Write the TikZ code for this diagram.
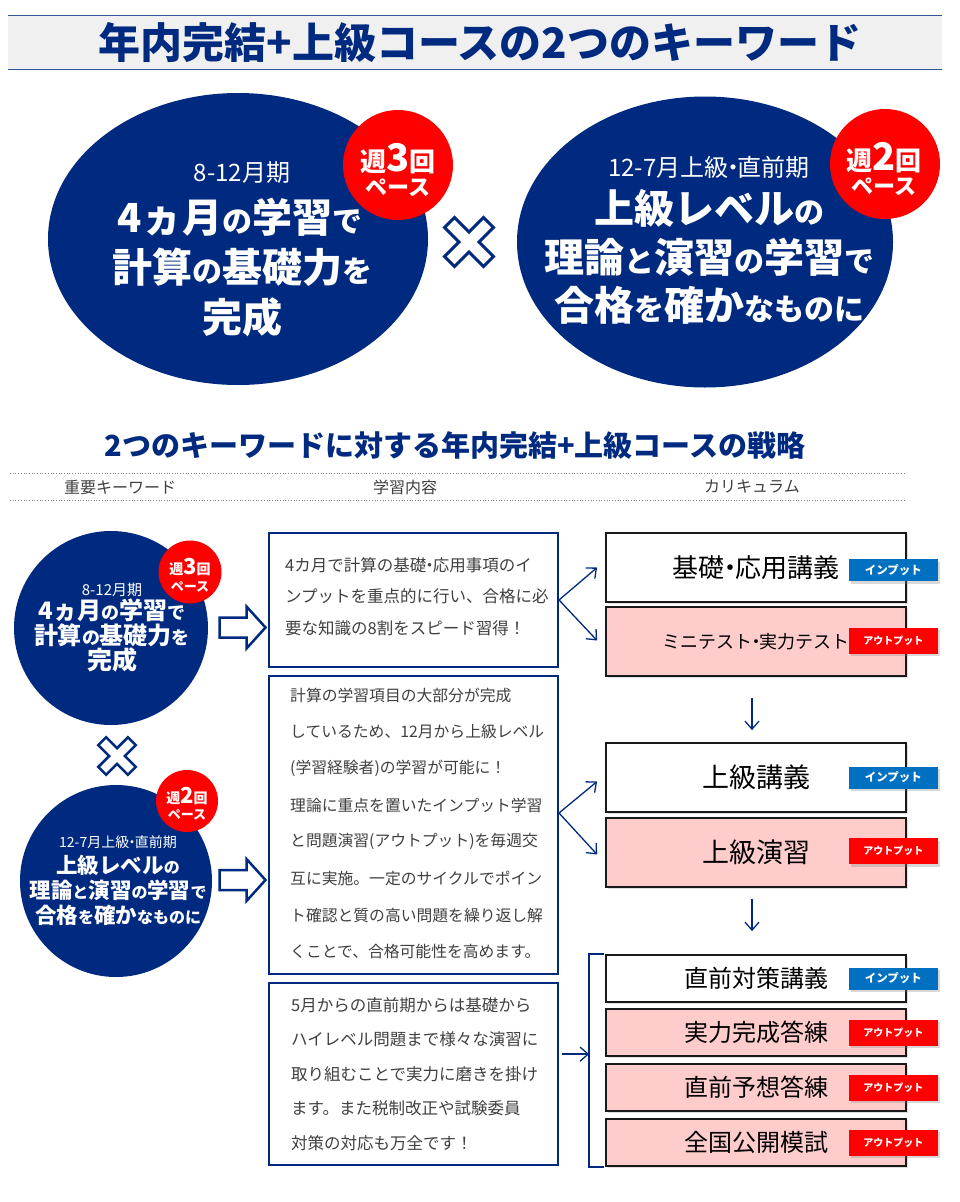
\documentclass[tikz,border=0pt]{standalone}
\usepackage{fontspec}
\setmainfont{Noto Sans CJK JP}
\usetikzlibrary{arrows.meta,shadows,calc,shapes.geometric}
\definecolor{navy}{RGB}{0,42,128}
\definecolor{tagblue}{RGB}{0,112,192}
\definecolor{tagred}{RGB}{255,0,0}
\definecolor{pinkfill}{RGB}{255,204,204}
\definecolor{txtgray}{RGB}{64,64,64}
\definecolor{bandgray}{RGB}{240,240,240}
\definecolor{bandline}{RGB}{47,85,151}
\newcommand\fsz[1]{\fontsize{#1}{#1}\selectfont}
\newcommand\nd{\kern-.3em・\kern-.3em}
\begin{document}
\begin{tikzpicture}[x=1pt,y=-1pt,
  ell/.style={ellipse, fill=navy, inner sep=0pt},
  disk/.style={circle, fill=navy, inner sep=0pt},
  redc/.style={circle, fill=tagred, inner sep=0pt},
  wt/.style={text=white, inner sep=0pt},
  wtb/.style={text=white, inner sep=0pt, font=\bfseries},
  tbox/.style={draw=navy, line width=2pt, fill=white, minimum width=289pt, inner sep=0pt},
  body/.style={anchor=west, text=txtgray, inner sep=0pt},
  cbox/.style={draw=black!90, line width=1.8pt, minimum width=300pt, inner sep=0pt, text=black,
     drop shadow={shadow xshift=1.5pt, shadow yshift=-1.5pt, opacity=0.25}},
  cwhite/.style={cbox, fill=white},
  cpink/.style={cbox, fill=pinkfill},
  tagbase/.style={minimum width=89pt, inner sep=0pt, text=white, font=\bfseries,
     drop shadow={shadow xshift=2.5pt, shadow yshift=-2.5pt, opacity=0.3}},
  tagin/.style={tagbase, fill=tagblue, minimum height=22pt, font=\bfseries\fsz{11.5}},
  tagout/.style={tagbase, fill=tagred, minimum height=26pt, font=\bfseries\fsz{10}},
  arr/.style={draw=navy, line width=1.3pt, -{Straight Barb[length=8pt,width=14pt]}},
  brk/.style={draw=navy, line width=1.3pt},
  colhead/.style={text=txtgray, inner sep=0pt, font=\fsz{16}},
  pics/xmark/.style n args={3}{code={
    \draw[draw=navy, fill=white, line width=#3, line join=miter, rotate=45]
      (#2,#2) -- (#2,#1) -- (-#2,#1) -- (-#2,#2) -- (-#1,#2) -- (-#1,-#2) -- (-#2,-#2)
      -- (-#2,-#1) -- (#2,-#1) -- (#2,-#2) -- (#1,-#2) -- (#1,#2) -- cycle;}},
  pics/fatarrow/.style={code={
    \draw[draw=navy, fill=white, line width=2.5pt, line join=miter]
      (-23,-10) -- (4,-10) -- (4,-21) -- (23,0) -- (4,21) -- (4,10) -- (-23,10) -- cycle;}}
]
\useasboundingbox (0,0) rectangle (960,1202);
\fill[white] (0,0) rectangle (960,1202);

% ---- title band
\node[fill=bandgray, minimum width=934pt, minimum height=53pt, inner sep=0pt] (band) at (475,42.5) {};
\draw[bandline, line width=1.2pt] (band.north west) -- (band.north east);
\draw[bandline, line width=1.2pt] (band.south west) -- (band.south east);
\node[font=\bfseries\fsz{42}, text=navy, inner sep=0pt] (title) at (480,43) {年内完結+上級コースの2つのキーワード};

% ---- big ellipses
\node[ell, minimum width=380pt, minimum height=292pt] (e1) at (238,239) {};
\node[ell, minimum width=376pt, minimum height=291pt] (e2) at (705,242) {};
\node[redc, minimum size=110pt] (r1) at (398,165) {};
\node[redc, minimum size=110pt] (r2) at (885,164) {};

\node[wt, font=\fsz{24}] (e1a) at (242,173) {8-12月期};
\node[wtb] (e1b) at (240,217) {\fsz{40}4ヵ月\fsz{30}の\fsz{40}学習\fsz{30}で};
\node[wtb] (e1c) at (242,267) {\fsz{40}計算\fsz{30}の\fsz{40}基礎力\fsz{30}を};
\node[wtb] (e1d) at (242,317) {\fsz{40}完成};

\node[wt, font=\fsz{24}] (e2a) at (709,167) {12-7月上級\nd 直前期};
\node[wtb] (e2b) at (709,208) {\fsz{40}上級レベル\fsz{30}の};
\node[wtb] (e2c) at (709,257) {\fsz{40}理論\fsz{30}と\fsz{40}演習\fsz{30}の\fsz{40}学習\fsz{30}で};
\node[wtb] (e2d) at (709,305) {\fsz{40}合格\fsz{30}を\fsz{40}確か\fsz{30}なものに};

\node[wtb] (r1a) at (398,159) {\fsz{26}週\fsz{38}3\fsz{26}回};
\node[wtb, font=\bfseries\fsz{22}] (r1b) at (398,188) {ペース};
\node[wtb] (r2a) at (884,158) {\fsz{26}週\fsz{38}2\fsz{26}回};
\node[wtb, font=\bfseries\fsz{22}] (r2b) at (884,187) {ペース};

\pic at (469,242) {xmark={27.6}{7}{3pt}};

% ---- strategy header
\node[font=\bfseries\fsz{29}, text=navy, inner sep=0pt] (h2) at (455,445) {2つのキーワードに対する年内完結+上級コースの戦略};
\draw[gray, dotted, line width=0.7pt] (10,473) -- (905,473);
\draw[gray, dotted, line width=0.7pt] (10,500) -- (905,500);
\node[colhead] (k1) at (120,487) {重要キーワード};
\node[colhead] (k2) at (405,487) {学習内容};
\node[colhead] (k3) at (752,487) {カリキュラム};

% ---- left disks
\node[disk, minimum size=194pt] (d1) at (111,628) {};
\node[disk, minimum size=192pt] (d2) at (116,881) {};
\node[redc, minimum size=63pt] (rs1) at (190,572) {};
\node[redc, minimum size=62pt] (rs2) at (187,801) {};

\node[wt, font=\fsz{15}] (d1a) at (112,590) {8-12月期};
\node[wtb] (d1b) at (112,610) {\fsz{24}4ヵ月\fsz{18}の\fsz{24}学習\fsz{18}で};
\node[wtb] (d1c) at (112,635) {\fsz{24}計算\fsz{18}の\fsz{24}基礎力\fsz{18}を};
\node[wtb] (d1d) at (112,660) {\fsz{25}完成};

\node[wt, font=\fsz{14}] (d2a) at (118,842) {12-7月上級\nd 直前期};
\node[wtb] (d2b) at (118,865) {\fsz{21.5}上級レベル\fsz{16}の};
\node[wtb] (d2c) at (118,890) {\fsz{21.5}理論\fsz{16}と\fsz{21.5}演習\fsz{16}の\fsz{21.5}学習\fsz{16}で};
\node[wtb] (d2d) at (118,915) {\fsz{21.5}合格\fsz{16}を\fsz{21.5}確か\fsz{16}なものに};

\node[wtb] (rs1a) at (190,567) {\fsz{14}週\fsz{22}3\fsz{14}回};
\node[wtb, font=\bfseries\fsz{13}] (rs1b) at (190,587) {ペース};
\node[wtb] (rs2a) at (187,796) {\fsz{14}週\fsz{22}2\fsz{14}回};
\node[wtb, font=\bfseries\fsz{13}] (rs2b) at (187,815) {ペース};

\pic at (117,756) {xmark={21}{5.5}{2.5pt}};
\pic at (242.5,627.5) {fatarrow};
\pic at (242.5,880) {fatarrow};

% ---- text boxes
\node[tbox, minimum height=134pt] (tb1) at (413.5,600) {};
\node[tbox, minimum height=298pt] (tb2) at (413.5,825) {};
\node[tbox, minimum height=182pt] (tb3) at (413.5,1074) {};

\foreach \t [count=\i from 0] in {4カ月で計算の基礎\nd 応用事項のイ, ンプットを重点的に行い、合格に必, 要な知識の8割をスピード習得！}
  \node[body, font=\fsz{16.5}] (tba\i) at (285,{565+31.5*\i}) {\t};

\foreach \t [count=\i from 0] in {計算の学習項目の大部分が完成, しているため、12月から上級レベル, (学習経験者)の学習が可能に！, 理論に重点を置いたインプット学習, と問題演習(アウトプット)を毎週交, 互に実施。一定のサイクルでポイン, ト確認と質の高い問題を繰り返し解, くことで、合格可能性を高めます。}
  \node[body, font=\fsz{15.8}] (tbb\i) at (290,{695+36.7*\i}) {\t};

\foreach \t [count=\i from 0] in {5月からの直前期からは基礎から, ハイレベル問題まで様々な演習に, 取り組むことで実力に磨きを掛け, ます。また税制改正や試験委員, 対策の対応も万全です！}
  \node[body, font=\fsz{16.5}] (tbc\i) at (291,{1005+34.5*\i}) {\t};

% ---- curriculum boxes
\node[cwhite, minimum height=69pt, font=\fsz{26}] (cb1) at (756,567.5) {基礎\nd 応用講義};
\node[cpink, minimum height=69pt, font=\fsz{18}] (cb2) at (756,641.5) {ミニテスト\nd 実力テスト};
\node[cwhite, minimum height=69pt, font=\fsz{27}] (cb3) at (756,777.5) {上級講義};
\node[cpink, minimum height=69pt, font=\fsz{27}] (cb4) at (756,852.5) {上級演習};
\node[cwhite, minimum height=47pt, font=\fsz{24}] (cb5) at (756,978.5) {直前対策講義};
\node[cpink, minimum height=47pt, font=\fsz{24}] (cb6) at (756,1032.5) {実力完成答練};
\node[cpink, minimum height=47pt, font=\fsz{24}] (cb7) at (756,1087.5) {直前予想答練};
\node[cpink, minimum height=47pt, font=\fsz{24}] (cb8) at (756,1142.5) {全国公開模試};

\node[tagin] (tg1) at ($(cb1.east)+(-13.5,2.5)$) {インプット};
\node[tagout] (tg2) at ($(cb2.east)+(-13.5,-1)$) {アウトプット};
\node[tagin] (tg3) at ($(cb3.east)+(-13.5,0)$) {インプット};
\node[tagout] (tg4) at ($(cb4.east)+(-13.5,-1.5)$) {アウトプット};
\node[tagin] (tg5) at ($(cb5.east)+(-13.5,0)$) {インプット};
\node[tagout] (tg6) at ($(cb6.east)+(-13.5,0)$) {アウトプット};
\node[tagout] (tg7) at ($(cb7.east)+(-13.5,0)$) {アウトプット};
\node[tagout] (tg8) at ($(cb8.east)+(-13.5,0)$) {アウトプット};

% ---- connectors
\draw[arr] (tb1.east) -- ($(cb1.west)+(-8,0)$);
\draw[arr] (tb1.east) -- ($(cb2.west)+(-8,-1)$);
\coordinate (v2) at ($(tb2.east)+(0,-12)$);
\draw[arr] (v2) -- ($(cb3.west)+(-8,4)$);
\draw[arr] (v2) -- ($(cb4.west)+(-8,2)$);
\draw[arr] ($(cb2.south)+(-4,21)$) -- ($(cb3.north)+(-4,-12)$);
\draw[arr] ($(cb4.south)+(-4,11)$) -- ($(cb5.north)+(-4,-23)$);

\coordinate (brt) at ($(cb5.north west)+(-16,0)$);
\coordinate (brb) at ($(cb8.south west)+(-16,0)$);
\coordinate (brm) at ($(brt)!0.47!(brb)$);
\draw[brk] ($(cb5.north west)+(-1,0)$) -- (brt) -- (brb) -- ($(cb8.south west)+(-1,0)$);
\draw[arr, shorten <=3pt] (tb3.east |- brm) -- (brm);
\end{tikzpicture}
\end{document}
